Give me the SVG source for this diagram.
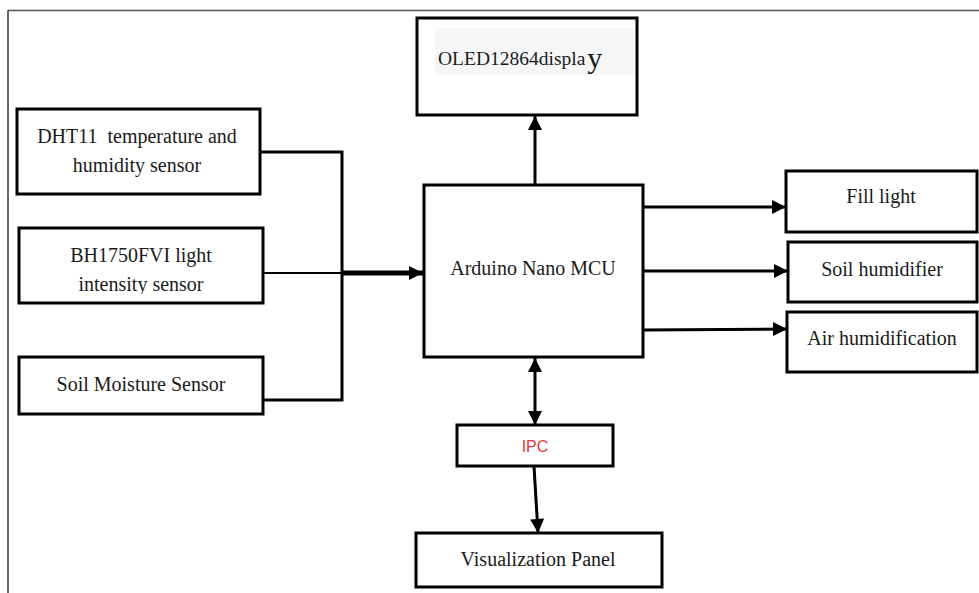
<svg xmlns="http://www.w3.org/2000/svg" width="979" height="593" viewBox="0 0 979 593">
<style>
.box{fill:#fff;stroke:#000;stroke-width:3}
.t{font-family:"Liberation Serif","Times New Roman",serif;font-size:20px;fill:#1a1a1a;text-anchor:middle}
.c{fill:none;stroke:#000;stroke-width:3}
</style>
<defs>
<marker id="ah" viewBox="0 0 10 10" refX="10" refY="5" markerUnits="userSpaceOnUse" markerWidth="17" markerHeight="14" orient="auto-start-reverse">
<path d="M0,0 L10,5 L0,10 z" fill="#000"/>
</marker>
<clipPath id="bhclip"><rect x="19" y="228" width="244" height="66"/></clipPath>
</defs>
<rect width="979" height="593" fill="#fff"/>
<g id="frame">
<line x1="8" y1="10.5" x2="979" y2="10.5" stroke="#555" stroke-width="1.5"/>
<line x1="8" y1="10" x2="8" y2="593" stroke="#333" stroke-width="1.5"/>
</g>
<g id="connectors">
<polyline class="c" points="260,152 342,152 342,400 263,400"/>
<line x1="263" y1="273" x2="342" y2="273" stroke="#000" stroke-width="2"/>
<line x1="342" y1="273" x2="423" y2="273" stroke="#000" stroke-width="5" marker-end="url(#ah)"/>
<line class="c" x1="535" y1="184" x2="535" y2="116" marker-end="url(#ah)"/>
<line class="c" x1="643" y1="207" x2="786" y2="207" marker-end="url(#ah)"/>
<line class="c" x1="643" y1="271" x2="788" y2="271" marker-end="url(#ah)"/>
<line class="c" x1="643" y1="330" x2="787" y2="329" marker-end="url(#ah)"/>
<line class="c" x1="535" y1="358" x2="535" y2="425" marker-start="url(#ah)" marker-end="url(#ah)"/>
<line class="c" x1="534" y1="466" x2="538" y2="533" marker-end="url(#ah)"/>
</g>
<g id="oled">
<rect class="box" x="417" y="18" width="220" height="97"/>
<rect x="435" y="28" width="199" height="47" fill="#f5f6f8"/>
<text x="438" y="65" font-family="Liberation Serif,Times New Roman,serif" font-size="19.5" fill="#1a1a1a">OLED12864displa<tspan font-size="30" dx="2" dy="3">y</tspan></text>
</g>
<g id="dht11">
<rect class="box" x="17" y="109" width="243" height="85"/>
<text class="t" x="137" y="143">DHT11&#160; temperature and</text>
<text class="t" x="137" y="172">humidity sensor</text>
</g>
<g id="bh1750">
<rect class="box" x="19" y="228" width="244" height="75"/>
<text class="t" x="141" y="262">BH1750FVI light</text>
<text class="t" x="141" y="291" clip-path="url(#bhclip)">intensity sensor</text>
</g>
<g id="soil-sensor">
<rect class="box" x="19" y="357" width="244" height="57"/>
<text class="t" x="141" y="391">Soil Moisture Sensor</text>
</g>
<g id="arduino">
<rect class="box" x="424" y="185" width="219" height="172"/>
<text class="t" x="533" y="275">Arduino Nano MCU</text>
</g>
<g id="fill-light">
<rect class="box" x="786" y="171" width="191" height="61"/>
<text class="t" x="881" y="203">Fill light</text>
</g>
<g id="soil-humidifier">
<rect class="box" x="788" y="242" width="189" height="60" stroke-width="4"/>
<text class="t" x="882" y="276">Soil humidifier</text>
</g>
<g id="air-humidification">
<rect class="box" x="787" y="312" width="190" height="60"/>
<text class="t" x="882" y="345">Air humidification</text>
</g>
<g id="ipc">
<rect class="box" x="457" y="425" width="156" height="41"/>
<text x="535" y="452" font-family="Liberation Sans,Arial,sans-serif" font-size="16" fill="#e03a3a" text-anchor="middle">IPC</text>
</g>
<g id="visualization-panel">
<rect class="box" x="416" y="533" width="246" height="54"/>
<text class="t" x="538" y="566">Visualization Panel</text>
</g>
</svg>
